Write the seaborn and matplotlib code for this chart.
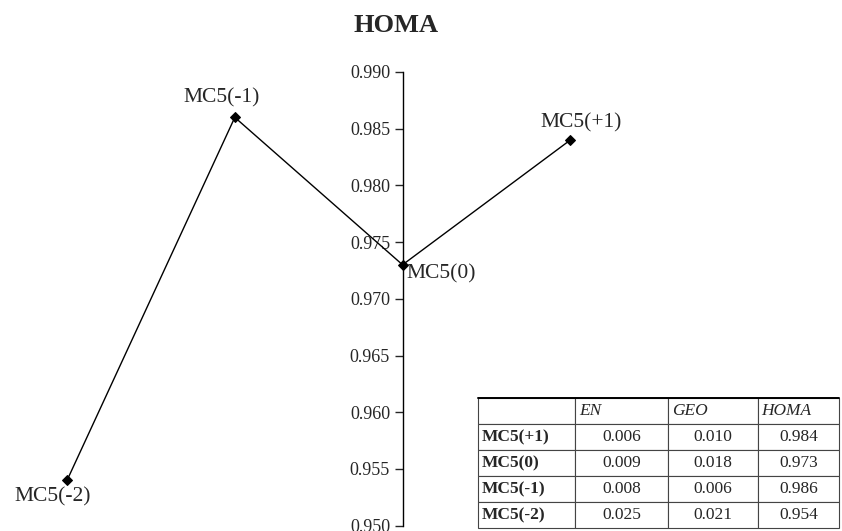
import matplotlib
matplotlib.use("Agg")
import numpy as np
import pandas as pd
import matplotlib.pyplot as plt
import seaborn as sns

# ---- data ----
point_labels = ['MC5(-2)', 'MC5(-1)', 'MC5(0)', 'MC5(+1)']
shift = [-2, -1, 0, 1]
homa = [0.954, 0.986, 0.973, 0.984]

table_rows = ['MC5(+1)', 'MC5(0)', 'MC5(-1)', 'MC5(-2)']
table_cols = ['EN', 'GEO', 'HOMA']
en_vals = [0.006, 0.009, 0.008, 0.025]
geo_vals = [0.010, 0.018, 0.006, 0.021]
homa_vals = [0.984, 0.973, 0.986, 0.954]

y_ticks = [0.950, 0.955, 0.960, 0.965, 0.970, 0.975, 0.980, 0.985, 0.990]

df = pd.DataFrame({'shift': shift, 'HOMA': homa, 'label': point_labels})

# ---- style ----
sns.set_style("white")
plt.rcParams['font.family'] = ['Liberation Serif', 'DejaVu Serif']

fig = plt.figure(figsize=(8.42, 5.31), dpi=100)
ax = fig.add_axes([0, 1 - 525.6 / 531, 1, (525.6 - 72) / 531])

sns.lineplot(data=df, x='shift', y='HOMA', sort=False, color='black',
             linewidth=1.0, marker='D', markersize=5, markeredgecolor='black',
             ax=ax)

ax.set_xlim(-2.40, 2.62)
ax.set_ylim(0.950, 0.990)
ax.set_yticks(y_ticks)
ax.set_yticklabels([f'{v:.3f}' for v in y_ticks])
ax.tick_params(axis='y', direction='out', length=6, width=1, left=True,
               pad=3, labelsize=13)
ax.set_xticks([])
ax.set_xlabel('')
ax.set_ylabel('')
for s in ['top', 'right', 'bottom']:
    ax.spines[s].set_visible(False)
ax.spines['left'].set_position(('data', 0))
ax.spines['left'].set_color('black')
ax.spines['left'].set_linewidth(1.0)
ax.set_facecolor('none')

# point labels (offsets in pixels)
offsets = {'MC5(-2)': (-14, -17, 'center'), 'MC5(-1)': (-13, 20, 'center'),
           'MC5(0)': (4, -9, 'left'), 'MC5(+1)': (11, 17, 'center')}
for _, row in df.iterrows():
    dx, dy, ha = offsets[row['label']]
    ax.annotate(row['label'], xy=(row['shift'], row['HOMA']), xytext=(dx, dy),
                textcoords='offset pixels', ha=ha, va='center', fontsize=15.5,
                annotation_clip=False)

fig.text(396 / 842, 1 - 25 / 531, 'HOMA', ha='center', va='center',
         fontsize=19, fontweight='bold')

# ---- table ----
tax = fig.add_axes([478 / 842, 1 - 528 / 531, 361 / 842, 130 / 531])
tax.axis('off')
cells = [[''] + table_cols]
for r, e, g, h in zip(table_rows, en_vals, geo_vals, homa_vals):
    cells.append([r, f'{e:.3f}', f'{g:.3f}', f'{h:.3f}'])
col_w = np.array([97, 93, 90, 81]) / 361
tbl = tax.table(cellText=cells, colWidths=col_w, bbox=[0, 0, 1, 1],
                cellLoc='center')
tbl.auto_set_font_size(False)
for (i, j), cell in tbl.get_celld().items():
    cell.set_edgecolor('#444444')
    cell.set_linewidth(0.8)
    cell.PAD = 0.04
    txt = cell.get_text()
    txt.set_fontsize(12.5)
    if i == 0:
        txt.set_fontstyle('italic')
        txt.set_horizontalalignment('left')
    elif j == 0:
        txt.set_fontweight('bold')
        txt.set_horizontalalignment('left')
tax.plot([0, 1], [1, 1], color='black', lw=1.4, transform=tax.transAxes,
         clip_on=False)

fig.savefig('out.png', dpi=100)
